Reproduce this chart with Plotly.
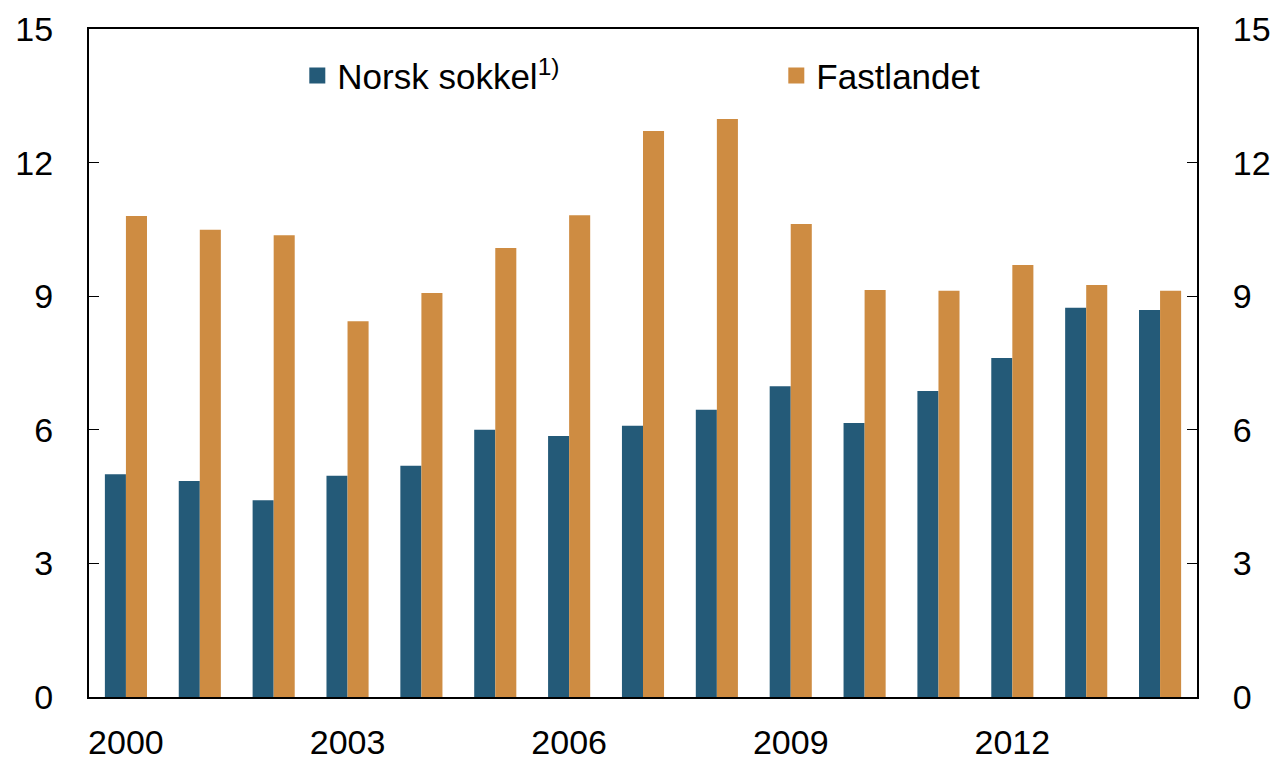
import plotly.graph_objects as go

years = list(range(2000, 2015))
norsk_sokkel = [5.0, 4.85, 4.42, 4.97, 5.19, 6.0, 5.86, 6.09, 6.45, 6.98, 6.15, 6.87, 7.61, 8.74, 8.69]
fastlandet = [10.8, 10.49, 10.37, 8.44, 9.07, 10.08, 10.82, 12.71, 12.98, 10.62, 9.14, 9.12, 9.70, 9.25, 9.12]
x_ticks = [2000, 2003, 2006, 2009, 2012]
y_ticks = [0, 3, 6, 9, 12, 15]

BLUE = "#245a78"
ORANGE = "#ce8c42"
FONT = "Liberation Sans, Arial, sans-serif"

fig = go.Figure()
fig.add_trace(go.Bar(x=years, y=norsk_sokkel, marker=dict(color=BLUE, line=dict(width=0)),
                     showlegend=False, name="Norsk sokkel"))
fig.add_trace(go.Bar(x=years, y=fastlandet, marker=dict(color=ORANGE, line=dict(width=0)),
                     showlegend=False, name="Fastlandet"))
# legend entries
fig.add_trace(go.Scatter(x=[None], y=[None], mode="markers", name="Norsk sokkel<sup>1)</sup>",
                         marker=dict(symbol="square", size=18, color=BLUE)))
fig.add_trace(go.Scatter(x=[None], y=[None], mode="markers", name="Fastlandet",
                         marker=dict(symbol="square", size=18, color=ORANGE)))
# right axis companion
fig.add_trace(go.Scatter(x=[None], y=[None], yaxis="y2", showlegend=False, hoverinfo="skip"))

fig.update_layout(
    width=1279, height=760,
    margin=dict(l=89, r=82, t=29, b=63, autoexpand=False),
    paper_bgcolor="white", plot_bgcolor="white",
    font=dict(family=FONT, size=34, color="black"),
    barmode="group", bargap=0.43, bargroupgap=0,
    xaxis=dict(range=[1999.5, 2014.5], tickvals=x_ticks, ticktext=[str(v) for v in x_ticks],
               showgrid=False, zeroline=False, showline=True, linecolor="black", linewidth=2,
               mirror=True, ticks="", ticklabelstandoff=14, tickfont=dict(size=34),
               automargin=False),
    yaxis=dict(range=[0, 15], tickvals=y_ticks, showgrid=False, zeroline=False, showline=True,
               linecolor="black", linewidth=2, ticks="inside", ticklen=10, tickwidth=1,
               tickcolor="black", ticklabelstandoff=27, tickfont=dict(size=34),
               automargin=False),
    yaxis2=dict(range=[0, 15], tickvals=y_ticks, overlaying="y", side="right", showgrid=False,
                zeroline=False, showline=True, linecolor="black", linewidth=2, ticks="inside",
                ticklen=10, tickwidth=1, tickcolor="black", ticklabelstandoff=27,
                tickfont=dict(size=34), automargin=False),
    legend=dict(orientation="h", x=0.188, y=0.974, xanchor="left", yanchor="top",
                bgcolor="rgba(0,0,0,0)", font=dict(size=35), entrywidth=434, itemwidth=30),
)

fig.write_html("out.html", config={"displayModeBar": False},
               post_script="document.body.style.margin='0';")
